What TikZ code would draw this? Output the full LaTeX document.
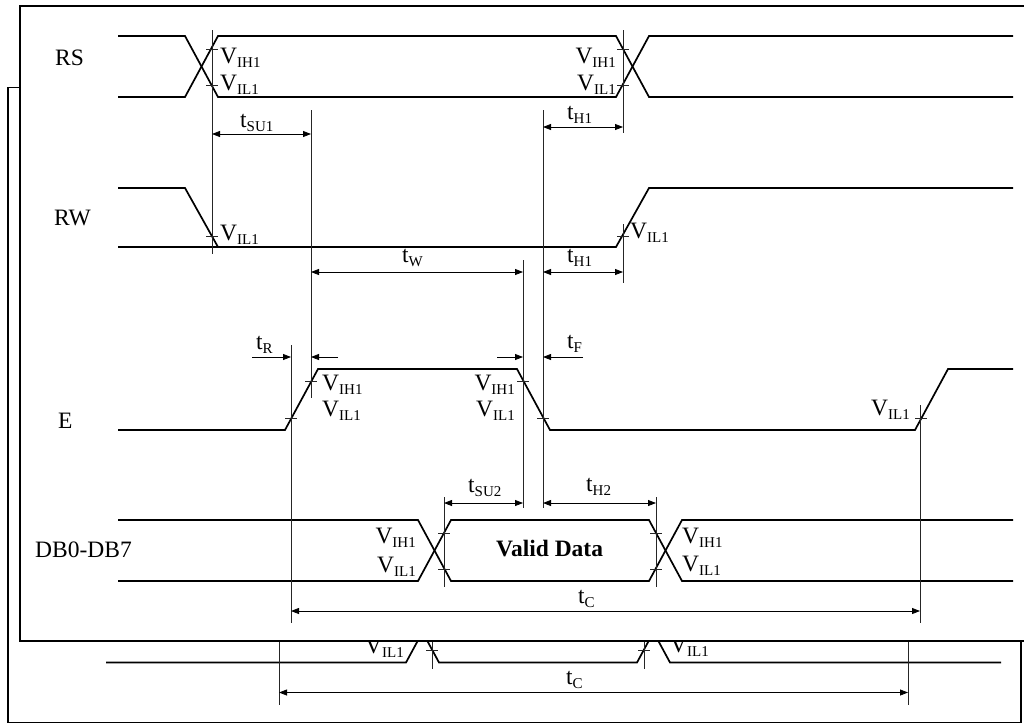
\documentclass[tikz,border=0pt]{standalone}
\usepackage{fontspec}
\setmainfont{Liberation Serif}
\usetikzlibrary{arrows.meta}
\newcommand{\sbs}[1]{\raisebox{-4pt}{\fontsize{15}{15}\selectfont #1}}
\tikzset{
  sig/.style={line width=1.7pt, line join=miter},
  guide/.style={line width=0.8pt, black!85},
  tickm/.style={line width=0.8pt, black!85},
  dimr/.style={line width=0.8pt, -{Triangle[length=8pt,width=6pt]}},
  dimb/.style={line width=0.8pt, {Triangle[length=8pt,width=6pt]}-{Triangle[length=8pt,width=6pt]}},
  frame/.style={line width=1.6pt, fill=white},
  lab/.style={inner sep=0pt, font=\fontsize{23.5}{23.5}\selectfont},
  labw/.style={lab, anchor=base west},
  labe/.style={lab, anchor=base east},
  boldlab/.style={inner sep=0pt, anchor=base west, font=\fontsize{23.5}{23.5}\selectfont\bfseries}
}
\newcommand{\tdiag}{%
  \draw[frame] (20,6) rectangle (1033,641);
  % signals
  \draw[sig] (118,36) -- (185,36) -- (218,97) -- (616,97) -- (649,36) -- (1013,36);
  \draw[sig] (118,97) -- (185,97) -- (218,36) -- (616,36) -- (649,97) -- (1013,97);
  \draw[sig] (118,188) -- (185,188) -- (218,247);
  \draw[sig] (118,247) -- (616,247) -- (649,188) -- (1013,188);
  \draw[sig] (118,430) -- (285,430) -- (318,369) -- (517,369) -- (550,430) -- (915,430) -- (948,369) -- (1013,369);
  \draw[sig] (118,520) -- (418,520) -- (451,581) -- (649,581) -- (682,520) -- (1013,520);
  \draw[sig] (118,581) -- (418,581) -- (451,520) -- (649,520) -- (682,581) -- (1013,581);
  % guide lines
  \draw[guide] (212,30) -- (212,254);
  \draw[guide] (623,30) -- (623,133);
  \draw[guide] (623,224) -- (623,283);
  \draw[guide] (311,110) -- (311,398);
  \draw[guide] (543,110) -- (543,508);
  \draw[guide] (523,260) -- (523,508);
  \draw[guide] (291,345) -- (291,623);
  \draw[guide] (920,405) -- (920,623);
  \draw[guide] (444,497) -- (444,587);
  \draw[guide] (656,497) -- (656,587);
  % ticks
  \foreach \tx/\ty in {212/49, 212/85, 623/49, 623/85, 212/236, 623/236,
      291/418, 311/381, 523/381, 543/418, 921/418,
      444/533, 444/569, 656/533, 656/569}
    \draw[tickm] ({\tx-6},\ty) -- ({\tx+6},\ty);
  % dimension arrows
  \draw[dimb] (212,134) -- (311,134);
  \draw[dimb] (543,127) -- (623,127);
  \draw[dimb] (311,272) -- (523,272);
  \draw[dimb] (543,272) -- (623,272);
  \draw[dimr] (252,357) -- (291,357);
  \draw[dimr] (338,357) -- (311,357);
  \draw[dimr] (497,357) -- (523,357);
  \draw[dimr] (583,357) -- (543,357);
  \draw[dimb] (444,503) -- (523,503);
  \draw[dimb] (543,503) -- (656,503);
  \draw[dimb] (291,611) -- (920,611);
  % signal names
  \node[labw] (rs) at (55,65) {RS};
  \node[labw] (rw) at (54,225) {RW};
  \node[labw] (e) at (58,428) {E};
  \node[labw] (db) at (35,557) {DB0-DB7};
  % level labels
  \node[labw] (rsih1) at (220,63) {V\sbs{IH1}};
  \node[labw] (rsil1) at (220,90) {V\sbs{IL1}};
  \node[labe] (rsih2) at (616,63) {V\sbs{IH1}};
  \node[labe] (rsil2) at (616,90) {V\sbs{IL1}};
  \node[labw] (rwil1) at (220,240) {V\sbs{IL1}};
  \node[labw] (rwil2) at (630,238) {V\sbs{IL1}};
  \node[labw] (eih1) at (322,390) {V\sbs{IH1}};
  \node[labw] (eil1) at (322,416) {V\sbs{IL1}};
  \node[labe] (eih2) at (515,390) {V\sbs{IH1}};
  \node[labe] (eil2) at (515,416) {V\sbs{IL1}};
  \node[labe] (eil3) at (910,415) {V\sbs{IL1}};
  \node[labe] (dbih1) at (416,543) {V\sbs{IH1}};
  \node[labe] (dbil1) at (416,572) {V\sbs{IL1}};
  \node[labw] (dbih2) at (682,543) {V\sbs{IH1}};
  \node[labw] (dbil2) at (682,571) {V\sbs{IL1}};
  \node[boldlab] (valid) at (496,556) {Valid Data};
  % timing labels
  \node[labw] (tsu1) at (240,127) {t\sbs{SU1}};
  \node[labw] (th1a) at (567,119) {t\sbs{H1}};
  \node[labw] (tw) at (402,262) {t\sbs{W}};
  \node[labw] (th1b) at (567,262) {t\sbs{H1}};
  \node[labw] (tr) at (256,349) {t\sbs{R}};
  \node[labw] (tf) at (567,348) {t\sbs{F}};
  \node[labw] (tsu2) at (468,492) {t\sbs{SU2}};
  \node[labw] (th2) at (586,491) {t\sbs{H2}};
  \node[labw] (tc) at (578,603) {t\sbs{C}};
}
\begin{document}
\begin{tikzpicture}[x=1pt,y=-1pt]
  \useasboundingbox (0,0) rectangle (1024,724);
  \clip (0,0) rectangle (1024,724);
  \begin{scope}[shift={(-12,81.5)}, name prefix=b-]
    \tdiag
  \end{scope}
  \begin{scope}[name prefix=f-]
    \tdiag
  \end{scope}
\end{tikzpicture}
\end{document}
